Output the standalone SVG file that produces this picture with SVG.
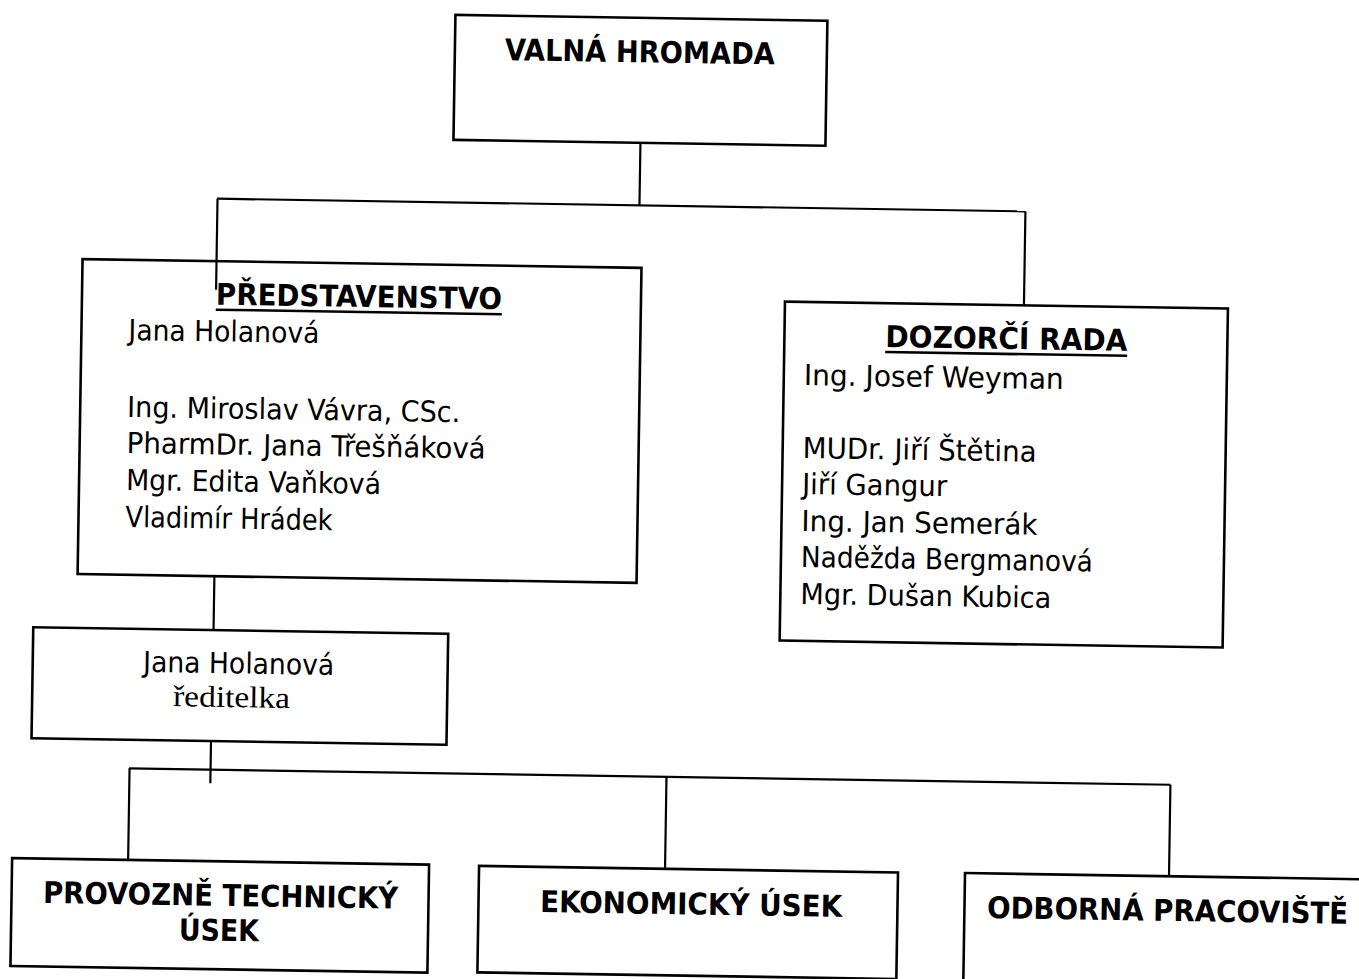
<svg xmlns="http://www.w3.org/2000/svg" width="1359" height="979" viewBox="0 0 1359 979">
<style>
.box{fill:#fff;stroke:#000;stroke-width:2.6}
.con line{stroke:#000;stroke-width:2.2}
.t{font-family:"DejaVu Sans Condensed","DejaVu Sans","Liberation Sans",sans-serif;font-size:29px;fill:#000}
.b{font-weight:bold;font-size:30px}
.s{font-family:"Liberation Serif","DejaVu Serif",serif;font-size:30px;fill:#000}
.ul{stroke:#000;stroke-width:2.6}
</style>
<rect width="1359" height="979" fill="#fff"/>
<g transform="rotate(0.9 680 490)">
<g id="valna-hromada">
<rect class="box" x="448" y="18.5" width="372" height="125"/>
<text class="t b" x="498" y="63" textLength="270" lengthAdjust="spacingAndGlyphs">VALNÁ HROMADA</text>
</g>
<g id="predstavenstvo">
<rect class="box" x="79" y="268.5" width="559" height="315"/>
<text class="t b" x="213" y="312" textLength="286" lengthAdjust="spacingAndGlyphs">PŘEDSTAVENSTVO</text>
<line class="ul" x1="213" y1="317" x2="499" y2="317"/>
<text class="t" x="126" y="348.7" textLength="191" lengthAdjust="spacingAndGlyphs">Jana Holanová</text>
<text class="t" x="126" y="425.7" textLength="333" lengthAdjust="spacingAndGlyphs">Ing. Miroslav Vávra, CSc.</text>
<text class="t" x="126" y="461.7" textLength="359" lengthAdjust="spacingAndGlyphs">PharmDr. Jana Třešňáková</text>
<text class="t" x="126" y="498.7" textLength="255" lengthAdjust="spacingAndGlyphs">Mgr. Edita Vaňková</text>
<text class="t" x="126" y="535.7" textLength="207" lengthAdjust="spacingAndGlyphs">Vladimír Hrádek</text>
</g>
<g id="dozorci-rada">
<rect class="box" x="782" y="300" width="443" height="339"/>
<text class="t b" x="883" y="343.8" textLength="242" lengthAdjust="spacingAndGlyphs">DOZORČÍ RADA</text>
<line class="ul" x1="883" y1="348.8" x2="1125" y2="348.8"/>
<text class="t" x="802" y="383.1" textLength="260" lengthAdjust="spacingAndGlyphs">Ing. Josef Weyman</text>
<text class="t" x="802" y="456.1" textLength="234" lengthAdjust="spacingAndGlyphs">MUDr. Jiří Štětina</text>
<text class="t" x="802" y="492.1" textLength="145" lengthAdjust="spacingAndGlyphs">Jiří Gangur</text>
<text class="t" x="802" y="529.1" textLength="236" lengthAdjust="spacingAndGlyphs">Ing. Jan Semerák</text>
<text class="t" x="802" y="565.1" textLength="292" lengthAdjust="spacingAndGlyphs">Naděžda Bergmanová</text>
<text class="t" x="802" y="602.1" textLength="251" lengthAdjust="spacingAndGlyphs">Mgr. Dušan Kubica</text>
</g>
<g id="reditelka">
<rect class="box" x="35.5" y="637.4" width="415" height="111"/>
<text class="t" x="146" y="680.4" textLength="191" lengthAdjust="spacingAndGlyphs">Jana Holanová</text>
<text class="s" x="176.4" y="714" textLength="117" lengthAdjust="spacingAndGlyphs">ředitelka</text>
</g>
<g id="provozne-technicky-usek">
<rect class="box" x="18" y="868.5" width="417" height="108"/>
<text class="t b" x="49.5" y="913" textLength="355" lengthAdjust="spacingAndGlyphs">PROVOZNĚ TECHNICKÝ</text>
<text class="t b" x="186" y="948" textLength="80" lengthAdjust="spacingAndGlyphs">ÚSEK</text>
</g>
<g id="ekonomicky-usek">
<rect class="box" x="485" y="869" width="419" height="106.5"/>
<text class="t b" x="546.6" y="914.2" textLength="302" lengthAdjust="spacingAndGlyphs">EKONOMICKÝ ÚSEK</text>
</g>
<g id="odborna-pracoviste">
<rect class="box" x="971" y="868.5" width="430" height="112"/>
<text class="t b" x="993.7" y="913.2" textLength="361" lengthAdjust="spacingAndGlyphs">ODBORNÁ PRACOVIŠTĚ</text>
</g>
<g id="connectors" class="con">
<line x1="635" y1="143.5" x2="635" y2="206"/>
<line x1="212.5" y1="206" x2="1021" y2="206"/>
<line x1="213" y1="206" x2="213" y2="297"/>
<line x1="1021" y1="206" x2="1021" y2="300"/>
<line x1="215.8" y1="583.5" x2="215.8" y2="637.4"/>
<line x1="215" y1="748.5" x2="215" y2="790.5"/>
<line x1="133.5" y1="777" x2="1175" y2="777"/>
<line x1="134" y1="777" x2="134" y2="868.5"/>
<line x1="671" y1="777" x2="671" y2="869"/>
<line x1="1175" y1="777" x2="1175" y2="868.5"/>
</g>
</g>
</svg>
